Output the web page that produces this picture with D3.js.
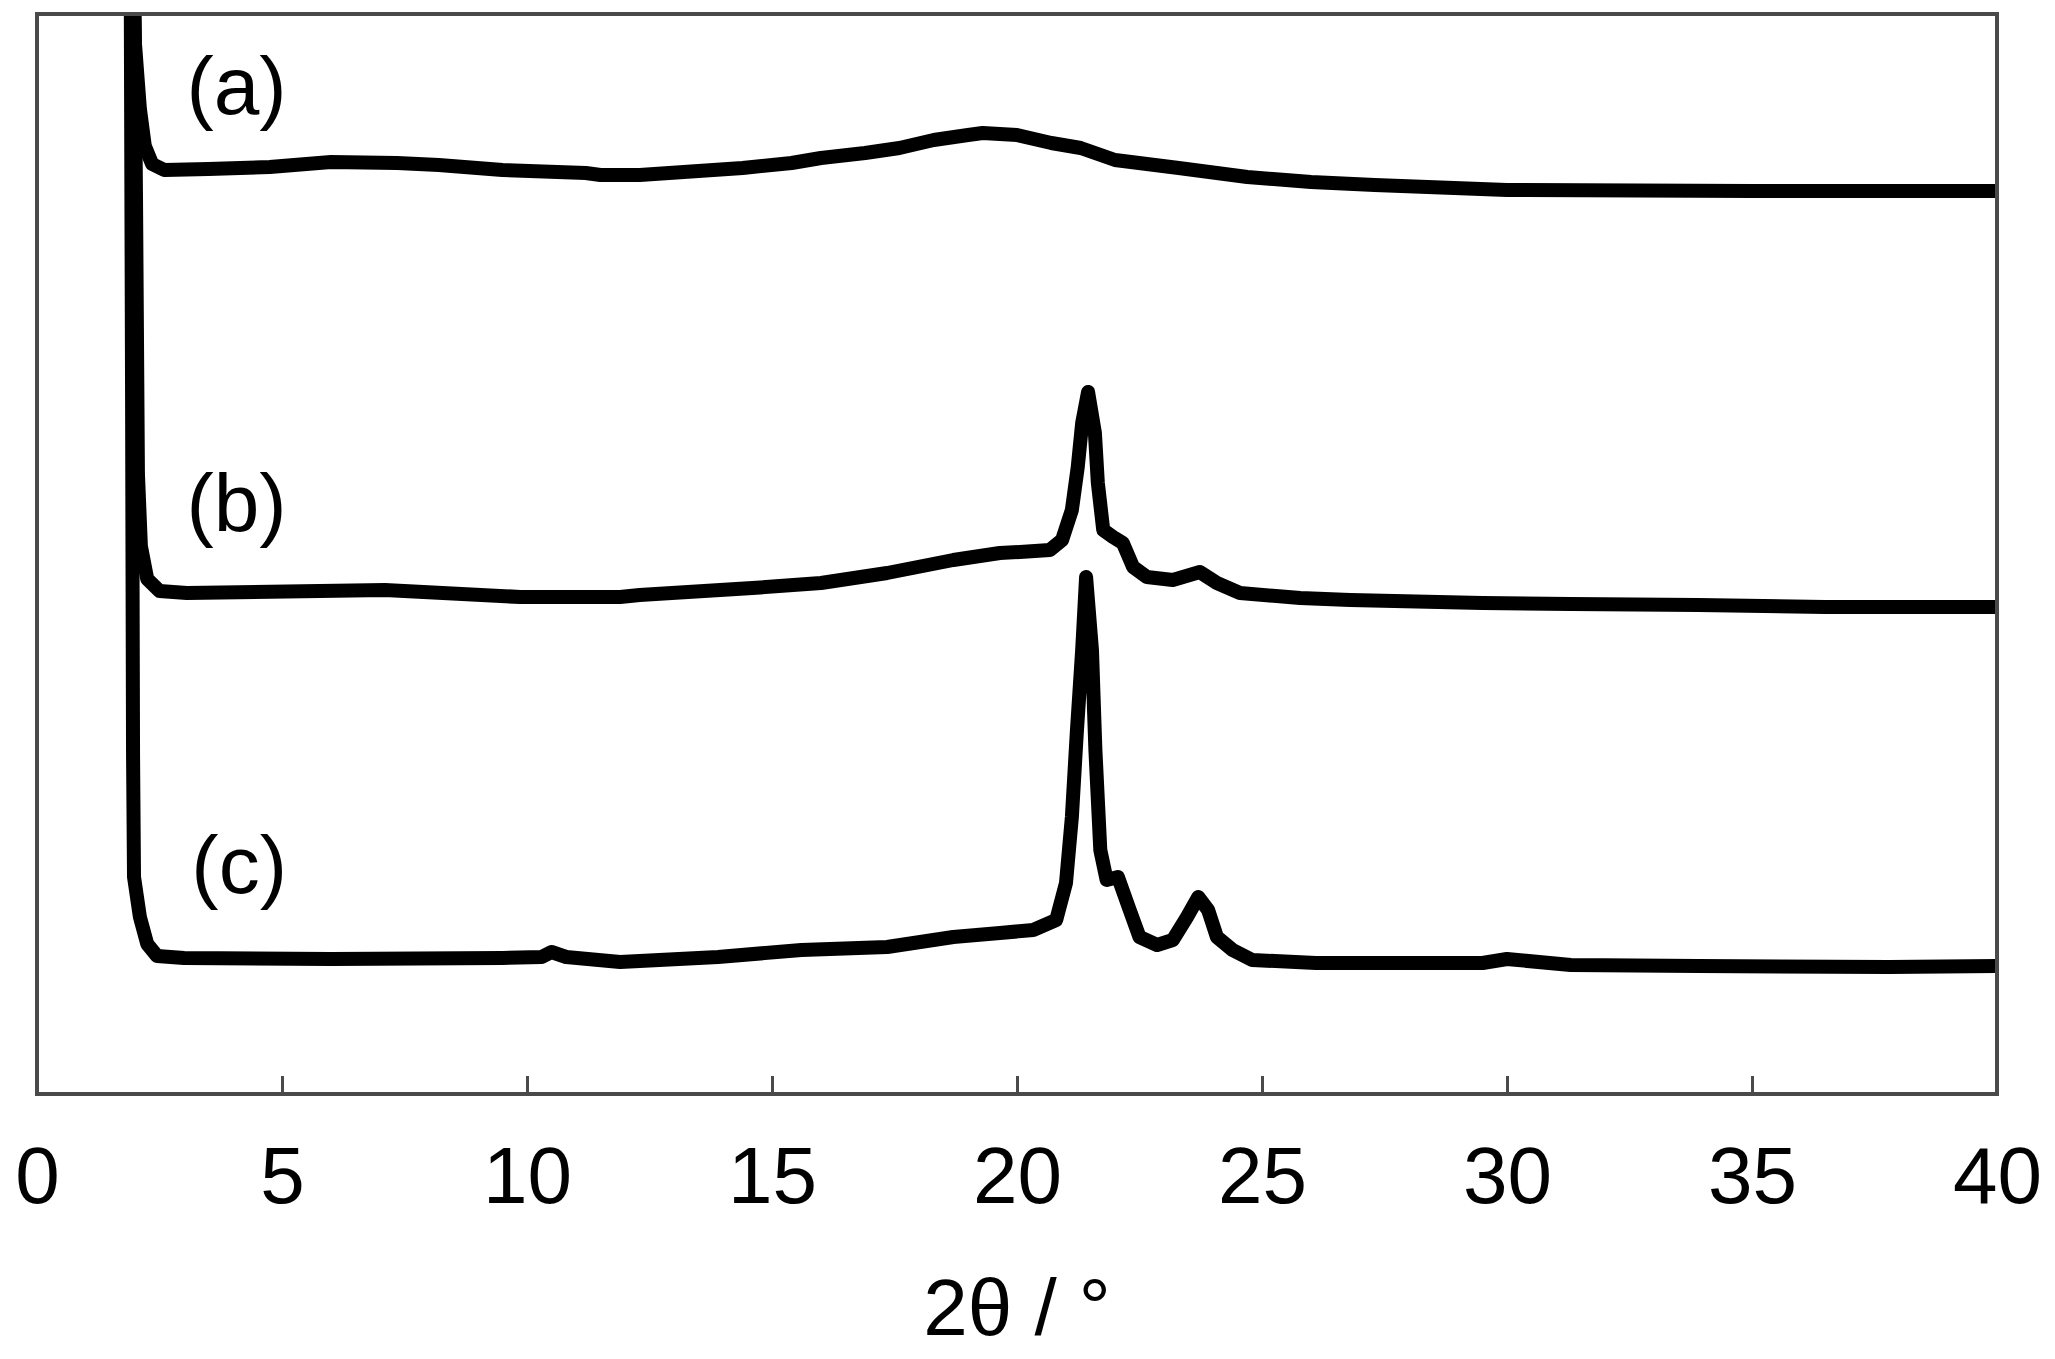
<!DOCTYPE html>
<html>
<head>
<meta charset="utf-8">
<script src="https://cdn.jsdelivr.net/npm/d3@7"></script>
<style>
  body { margin: 0; background: #fff; }
  svg { display: block; }
  text { font-family: "Liberation Sans", Arial, sans-serif; fill: #000; }
</style>
</head>
<body>
<svg id="chart" width="2055" height="1359"></svg>
<script>
// 2theta (deg) and intensity (a.u.), one pair of arrays per pattern
var thetaA = [1.90, 2.00, 2.10, 2.20, 2.35, 2.6, 3.5, 4.75, 6.0, 7.35, 8.2, 9.5, 11.2, 11.5, 12.3,
  13.2, 14.4, 15.4, 16.0, 16.9, 17.6, 18.3, 19.0, 19.3, 20.0, 20.7, 21.3, 22.0, 23.3, 24.7,
  26.0, 27.3, 30, 35, 40];
var intensityA = [1300, 1050, 985, 948, 930, 924, 925, 927, 932, 931, 929, 924, 921, 919, 919,
  922, 926, 931, 936, 941, 946, 954, 959, 961, 959, 951, 946, 934, 926, 917,
  912, 909, 904, 903, 903];

var thetaB = [1.95, 2.02, 2.06, 2.12, 2.25, 2.5, 3.06, 7.1, 9.86, 11.9, 12.3, 14.6, 16.0, 17.35,
  18.7, 19.65, 20.06, 20.67, 20.92, 21.12, 21.24, 21.33, 21.45, 21.59, 21.65, 21.76, 21.96,
  22.16, 22.37, 22.65, 23.18, 23.73, 24.08, 24.55, 25.78, 26.8, 29.5, 31.3, 33.9, 36.5, 40];
var intensityB = [1300, 900, 620, 548, 515, 503, 501, 504, 497, 497, 499, 506, 511, 521,
  534, 541, 542, 544, 554, 584, 627, 671, 702, 661, 611, 564, 557,
  551, 527, 517, 514, 522, 511, 501, 496, 494, 491, 490, 489, 487, 487];

var thetaC = [1.90, 1.94, 1.96, 1.98, 2.10, 2.25, 2.45, 3.0, 6.0, 9.5, 10.3, 10.5, 10.8, 11.9,
  13.9, 15.6, 17.35, 18.7, 19.65, 20.33, 20.8, 21.0, 21.12, 21.22, 21.33, 21.41, 21.53, 21.6,
  21.7, 21.83, 22.06, 22.3, 22.5, 22.86, 23.18, 23.47, 23.7, 23.9, 24.08, 24.4, 24.8, 26.1,
  29.5, 30.0, 31.3, 33.9, 37.8, 40];
var intensityC = [1300, 700, 340, 217, 177, 150, 138, 136, 135, 136, 137, 142, 137, 132,
  137, 144, 147, 157, 161, 164, 174, 211, 277, 361, 444, 517, 444, 344,
  244, 214, 217, 184, 157, 149, 154, 177, 197, 184, 157, 144, 134, 131,
  131, 135, 129, 128, 127, 128];

var xTicks = [0, 5, 10, 15, 20, 25, 30, 35, 40];
var seriesLabels = ["(a)", "(b)", "(c)"];
// where each label sits, in data units (2theta, intensity of its baseline)
var labelTheta = [3.05, 3.05, 3.15];
var labelIntensity = [980, 563, 201];

var margin = {top: 14, right: 58, bottom: 265, left: 37};
var svg = d3.select("#chart");
var width = 2055 - margin.left - margin.right;
var height = 1359 - margin.top - margin.bottom;

var x = d3.scaleLinear().domain([0, 40]).range([0, width]);
var y = d3.scaleLinear().domain([0, 1080]).range([height, 0]);

var g = svg.append("g")
    .attr("transform", "translate(" + margin.left + "," + margin.top + ")");

g.append("clipPath")
    .attr("id", "plot-clip")
  .append("rect")
    .attr("width", width)
    .attr("height", height);

var line = d3.line()
    .x(function(d) { return x(d[0]); })
    .y(function(d) { return y(d[1]); });

var series = [
  d3.zip(thetaA, intensityA),
  d3.zip(thetaB, intensityB),
  d3.zip(thetaC, intensityC)
];

g.append("g")
    .attr("clip-path", "url(#plot-clip)")
  .selectAll(".pattern")
  .data(series)
  .enter().append("path")
    .attr("class", "pattern")
    .attr("d", line)
    .attr("fill", "none")
    .attr("stroke", "#000")
    .attr("stroke-width", 14)
    .attr("stroke-linejoin", "round");

// frame with inward ticks
var frameColor = "#4a4a4a";
var xAxis = d3.axisBottom(x)
    .tickValues(xTicks)
    .tickSizeInner(-18)
    .tickSizeOuter(0)
    .tickPadding(52)
    .tickFormat(d3.format("d"));

var axisG = g.append("g")
    .attr("transform", "translate(0," + height + ")")
    .call(xAxis);
axisG.select(".domain").remove();
axisG.selectAll(".tick line")
    .attr("stroke", frameColor)
    .attr("stroke-width", 3)
    .filter(function(d) { return d === 0 || d === 40; }).remove();
axisG.selectAll(".tick text")
    .attr("font-size", 80)
    .attr("font-family", "'Liberation Sans', Arial, sans-serif")
    .attr("fill", "#000");

g.append("rect")
    .attr("width", width)
    .attr("height", height)
    .attr("fill", "none")
    .attr("stroke", frameColor)
    .attr("stroke-width", 4);

g.selectAll(".series-label")
  .data(seriesLabels)
  .enter().append("text")
    .attr("class", "series-label")
    .attr("x", function(d, i) { return x(labelTheta[i]); })
    .attr("y", function(d, i) { return y(labelIntensity[i]); })
    .attr("font-size", 82)
    .text(function(d) { return d; });

g.append("text")
    .attr("x", width / 2)
    .attr("y", 1335 - margin.top)
    .attr("text-anchor", "middle")
    .attr("font-size", 80)
    .text("2θ / °");
</script>
</body>
</html>
